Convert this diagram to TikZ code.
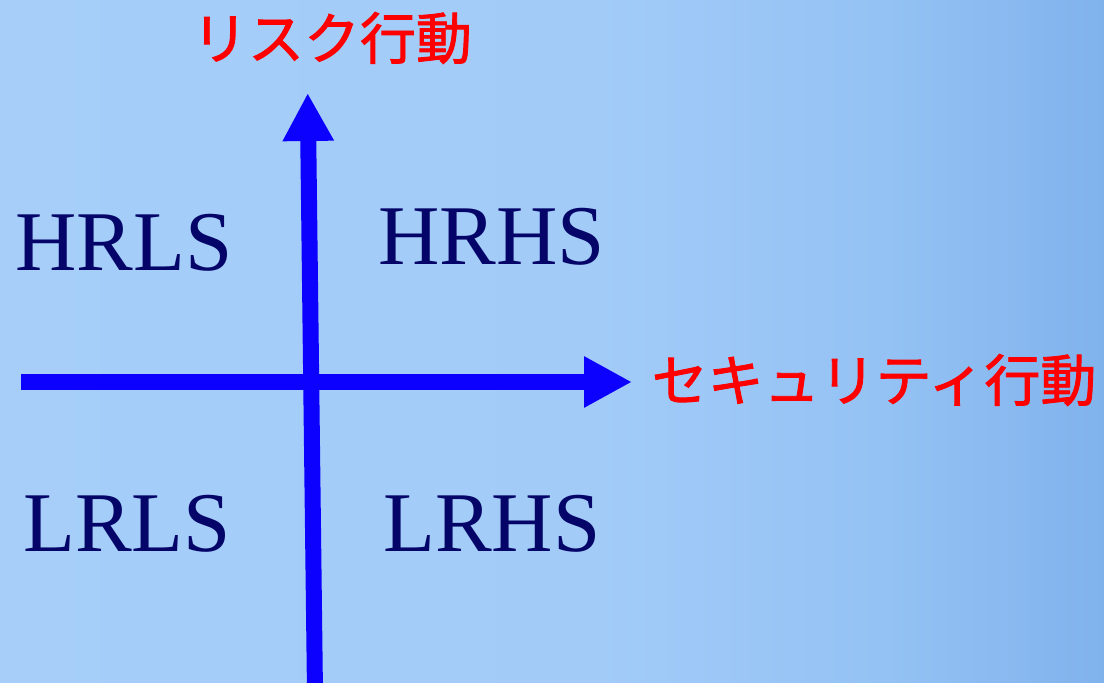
\documentclass[tikz,border=0pt]{standalone}
\usepackage{fontspec}
\setmainfont{Liberation Serif}
\newfontfamily\jpfont[FakeBold=1.5]{Noto Sans CJK JP}
\usetikzlibrary{arrows.meta}
\definecolor{axisblue}{RGB}{12,0,255}
\definecolor{quadnavy}{RGB}{5,5,105}
\definecolor{labelred}{RGB}{255,0,0}
\pgfdeclarehorizontalshading{bgshade}{100bp}{%
  color(0bp)=(rgb,255:red,166;green,206;blue,249);
  color(25bp)=(rgb,255:red,166;green,206;blue,249);
  color(52bp)=(rgb,255:red,162;green,203;blue,248);
  color(65bp)=(rgb,255:red,148;green,194;blue,244);
  color(75bp)=(rgb,255:red,128;green,178;blue,236);
  color(100bp)=(rgb,255:red,128;green,178;blue,236)}
\tikzset{
  axis/.style={draw=axisblue, line width=16pt, -{Triangle[length=48pt,width=48pt]}},
  quad/.style={font=\fontsize{85}{85}\selectfont, text=quadnavy, anchor=base west, inner sep=0pt},
  axislabel/.style={font=\jpfont\fontsize{56}{56}\selectfont, text=labelred, inner sep=0pt}
}
\begin{document}
\begin{tikzpicture}[x=1pt,y=1pt]
\useasboundingbox (0,0) rectangle (1104,683);
\clip (0,0) rectangle (1104,683);
\shade[shading=bgshade] (0,0) rectangle (1104,683);
% axes
\coordinate (vbot) at (315,-10);
\coordinate (vtop) at (307.7,590);
\coordinate (hleft) at (21,301);
\coordinate (hright) at (632,301);
\draw[axis] (vbot) -- (vtop);
\draw[axis] (hleft) -- (hright);
% axis labels
\node[axislabel] (risk) at (332,645) {リスク行動};
\node[axislabel] (sec) at (874,303) {セキュリティ行動};
% quadrant labels
\node[quad] (hrls) at (15,412) {HRLS};
\node[quad] (hrhs) at (378,418) {HRHS};
\node[quad] (lrls) at (23,131) {LRLS};
\node[quad] (lrhs) at (383,131) {LRHS};
\end{tikzpicture}
\end{document}
